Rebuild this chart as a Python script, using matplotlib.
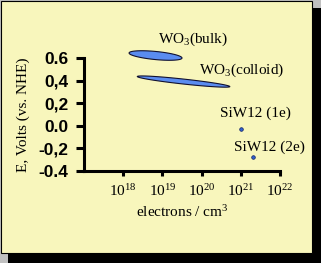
import numpy as np
import matplotlib
matplotlib.use("Agg")
import matplotlib.pyplot as plt
from matplotlib.patches import Rectangle, Polygon

plt.rcParams.update({
    "font.family": "serif",
    "font.serif": ["Liberation Serif", "DejaVu Serif"],
    "mathtext.fontset": "custom",
    "mathtext.rm": "Liberation Serif",
    "mathtext.it": "Liberation Serif:italic",
    "mathtext.bf": "Liberation Serif:bold",
})

# data: ellipse ends (electrons/cm3, E) and half thickness (V)
bulk_n = [10**18.15, 10**19.50]
bulk_E = [0.644, 0.600]
bulk_h = 0.036
colloid_n = [10**18.36, 10**20.72]
colloid_E = [0.436, 0.347]
colloid_h = 0.022
siw_n = [1.0e21, 2.0e21]
siw_E = [-0.03, -0.275]

labels = ["WO$_3$(bulk)", "WO$_3$(colloid)", "SiW12 (1e)", "SiW12 (2e)"]
label_n = [10**18.89, 10**19.94, 10**20.47, 10**20.83]
label_E = [0.73, 0.458, 0.075, -0.22]

y_ticks = [0.6, 0.4, 0.2, 0.0, -0.2, -0.4]
y_ticklabels = ["0.6", "0,4", "0,2", "0.0", "-0,2", "-0.4"]
x_ticks = [1e18, 1e19, 1e20, 1e21, 1e22]
x_ticklabels = [r"$\mathregular{10^{18}}$", r"$\mathregular{10^{19}}$",
                r"$\mathregular{10^{20}}$", r"$\mathregular{10^{21}}$",
                r"$\mathregular{10^{22}}$"]

YELLOW = "#F8F6BC"
BLUE = "#5A8CF0"

fig = plt.figure(figsize=(3.21, 2.63), dpi=100, facecolor="#C0C0C0")
# drop shadow + panel
fig.patches.append(Rectangle((8/321, 0), 1, 1 - 8/263, transform=fig.transFigure,
                             facecolor="black", edgecolor="none", zorder=-2))
fig.patches.append(Rectangle((0.5/321, 10/263), 311.5/321, 252.5/263, transform=fig.transFigure,
                             facecolor=YELLOW, edgecolor="black", linewidth=0.8, zorder=-1))

ax = fig.add_axes([84/321, 1 - 171/263, 196/321, 113/263])
ax.patch.set_alpha(0)
ax.set_xscale("log")
ax.set_xlim(1e17, 1e22)
ax.set_ylim(-0.4, 0.6)


def blob(n, E, h):
    lx = np.log10(n)
    t = np.linspace(0, 2*np.pi, 120)
    cx, cy = (lx[0] + lx[1])/2, (E[0] + E[1])/2
    dx, dy = (lx[1] - lx[0])/2, (E[1] - E[0])/2
    px = cx + dx*np.cos(t)
    py = cy + dy*np.cos(t) + h*np.sin(t)
    return np.column_stack([10**px, py])


for n, E, h in [(bulk_n, bulk_E, bulk_h), (colloid_n, colloid_E, colloid_h)]:
    ax.add_patch(Polygon(blob(n, E, h), closed=True, facecolor=BLUE,
                         edgecolor="#101030", linewidth=0.8, zorder=3, clip_on=False))

ax.plot(siw_n, siw_E, "o", color="#3060D0", markeredgecolor="#102060",
        markersize=2.6, markeredgewidth=0.5, zorder=4, clip_on=False)

for s, n, E in zip(labels, label_n, label_E):
    ax.text(n, E, s, fontsize=11, ha="left", va="baseline", clip_on=False)

for side in ["top", "right"]:
    ax.spines[side].set_visible(False)
for side in ["left", "bottom"]:
    ax.spines[side].set_linewidth(2.2)

ax.set_yticks(y_ticks)
ax.set_yticklabels(y_ticklabels, family="Liberation Sans", weight="bold", fontsize=12.5)
ax.set_xticks(x_ticks)
ax.set_xticklabels(x_ticklabels, fontsize=11)
ax.xaxis.set_minor_locator(matplotlib.ticker.NullLocator())
ax.tick_params(axis="y", length=6, width=2.2, pad=5)
ax.tick_params(axis="x", length=3.5, width=2.2, pad=5)

ax.set_xlabel("electrons / cm$^3$", fontsize=11, labelpad=4)
ax.set_ylabel("E, Volts (vs. NHE)", fontsize=11, labelpad=6)

fig.savefig("out.png", dpi=100, facecolor=fig.get_facecolor())
